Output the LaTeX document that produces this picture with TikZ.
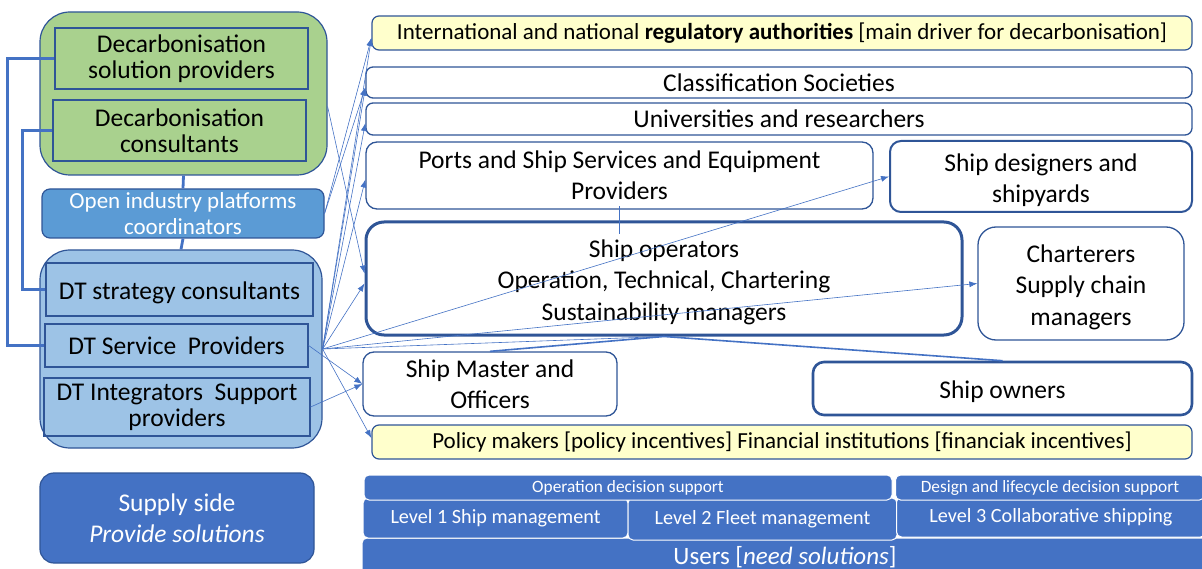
\documentclass[tikz,border=0pt]{standalone}
\usepackage{fontspec}
\setmainfont{Carlito}
\usetikzlibrary{arrows.meta}
\definecolor{bord}{HTML}{2F5597}
\definecolor{lineblue}{HTML}{4472C4}
\definecolor{greenfill}{HTML}{A9D18E}
\definecolor{lightblue}{HTML}{9DC3E6}
\definecolor{midblue}{HTML}{5B9BD5}
\definecolor{darkblue}{HTML}{4472C4}
\definecolor{paleyellow}{HTML}{FFFFCC}
\newcommand{\dnstrut}{\rule{0pt}{25pt}}
\tikzset{
  bigtxt/.style={font=\fontsize{25.5}{31.3}\selectfont},
  lefttxt/.style={font=\fontsize{25.5}{26}\selectfont},
  outerbox/.style={draw=bord, line width=1.2pt, rounded corners=30pt, inner sep=0pt},
  innerbox/.style={draw=bord, line width=1.2pt, align=center, inner sep=0pt, lefttxt},
  rbox/.style={draw=bord, fill=white, line width=1.3pt, rounded corners=11pt, align=center, inner sep=0pt, bigtxt},
  ybox/.style={draw=bord, fill=paleyellow, line width=1.2pt, rounded corners=7pt, align=center, inner sep=0pt, font=\fontsize{23}{28}\selectfont},
  blk/.style={draw=white, fill=darkblue, line width=1pt, rounded corners=5pt, align=center, inner sep=0pt, text=white},
  conn/.style={draw=lineblue, line width=0.6pt},
  arr/.style={conn, -{Latex[length=8pt,width=6pt]}},
  thickconn/.style={draw=lineblue, line width=2.8pt},
}
\begin{document}
\begin{tikzpicture}[x=1pt,y=-1pt]
\useasboundingbox (0,0) rectangle (1202,569);
% ---------- left column ----------
\node[outerbox, fill=greenfill, minimum width=287, minimum height=163] (green) at (183.5,93.5) {};
\node[innerbox, minimum width=253, minimum height=61] (dsp) at (181.5,58.5) {Decarbonisation\\solution providers};
\node[innerbox, minimum width=253, minimum height=61] (dcons) at (179.5,130.5) {Decarbonisation\\consultants};
\node[draw=bord, fill=midblue, line width=1.2pt, rounded corners=8pt, minimum width=282, minimum height=49, inner sep=0pt, align=center, text=white, font=\fontsize{23}{26}\selectfont] (oip) at (183,213.5) {Open industry platforms\\coordinators};
\node[outerbox, fill=lightblue, minimum width=282, minimum height=198] (blue) at (181,349) {};
\node[innerbox, minimum width=267, minimum height=53] (dts) at (179.5,289.5) {\dnstrut DT strategy consultants};
\node[innerbox, minimum width=263, minimum height=43] (dtsp) at (176.5,345.5) {DT Service~~Providers};
\node[innerbox, minimum width=266, minimum height=58] (dti) at (177,407) {DT Integrators~~Support\\providers};
\node[draw=bord, fill=darkblue, line width=1.2pt, rounded corners=14pt, minimum width=274, minimum height=90, inner sep=0pt, align=center, text=white, bigtxt] (supply) at (177,518) {Supply side\\\textit{Provide solutions}};
% left brackets
\draw[thickconn] (dsp.west) -- ++(-47,0) |- (dtsp.west);
\draw[thickconn] (dcons.west) -- ++(-30,0) |- (dts.west);
\draw[thickconn] (green.south) -- (oip.north);
\draw[thickconn] (oip.south) -- (blue.north);
% ---------- right column ----------
\node[ybox, minimum width=820, minimum height=34] (reg) at (782,33) {International and national \textbf{regulatory authorities} [main driver for decarbonisation]};
\node[rbox, rounded corners=7pt, minimum width=826, minimum height=31] (cls) at (779,82.5) {Classification Societies};
\node[rbox, rounded corners=7pt, minimum width=826, minimum height=32] (uni) at (779,119) {Universities and researchers};
\node[rbox, minimum width=507, minimum height=67] (ports) at (619.5,175.5) {Ports and Ship Services and Equipment\\Providers};
\node[rbox, line width=2pt, minimum width=302, minimum height=71] (sdes) at (1041,176.5) {\dnstrut Ship designers and\\shipyards};
\node[rbox, line width=3pt, rounded corners=18pt, minimum width=596, minimum height=113] (sop) at (664,278.5) {\dnstrut Ship operators\\Operation, Technical, Chartering\\Sustainability managers};
\node[rbox, rounded corners=18pt, minimum width=206, minimum height=113] (chart) at (1081,283.5) {\dnstrut Charterers\\Supply chain\\managers};
\node[rbox, minimum width=254, minimum height=64] (smaster) at (490,384) {Ship Master and\\Officers};
\node[rbox, line width=2.6pt, minimum width=379, minimum height=53] (sown) at (1002.5,388.5) {\dnstrut Ship owners};
\node[ybox, minimum width=820, minimum height=34] (policy) at (782,442) {Policy makers [policy incentives] Financial institutions [financiak incentives]};
% ---------- bottom bar ----------
\node[blk, minimum width=862, minimum height=40, font=\fontsize{25}{30}\selectfont] (users) at (793,558) {\hspace*{-16pt}\raisebox{6pt}{Users [\textit{need solutions}]}};
\node[blk, minimum width=265, minimum height=40, font=\fontsize{20.2}{24}\selectfont] (l1) at (495.5,518) {Level 1 Ship management};
\node[blk, minimum width=269, minimum height=42, font=\fontsize{20.2}{24}\selectfont] (l2) at (762.5,519) {Level 2 Fleet management};
\node[blk, minimum width=309, minimum height=40, font=\fontsize{20.2}{24}\selectfont] (l3) at (1051,517) {Level 3 Collaborative shipping};
\node[blk, minimum width=528, minimum height=25, font=\fontsize{17.3}{20}\selectfont] (ods) at (628,487.5) {Operation decision support};
\node[blk, minimum width=309, minimum height=25, font=\fontsize{17.3}{20}\selectfont] (dlds) at (1050,487.5) {Design and lifecycle decision support};
% ---------- connectors ----------
\draw[arr] (blue.east) -- ([yshift=-5pt]reg.west);
\draw[arr] (blue.east) -- ([yshift=-5pt]cls.west);
\draw[arr] (blue.east) -- ([yshift=-4pt]uni.west);
\draw[arr] (blue.east) -- ([yshift=-4pt]ports.west);
\draw[arr] (blue.east) -- ([yshift=-5pt]sop.west);
\draw[arr] (blue.east) -- (sdes.west);
\draw[arr] (blue.east) -- (chart.west);
\draw[arr] (blue.east) -- ([yshift=4pt]policy.west);
\draw[arr] (dtsp.east) -- (smaster.west);
\draw[arr] (dti.east) -- (smaster.west);
\draw[arr] ([yshift=-13pt]green.east) -- ([yshift=5pt]sop.west);
\draw[arr] (oip.east) -- ([yshift=-5pt]reg.west);
\draw[arr] (oip.east) -- ([yshift=-5pt]cls.west);
\draw[conn] (blue.east) -- (sop.south);
\draw[draw=lineblue, line width=1.6pt] (smaster.north) -- (sop.south) -- (sown.north);
\draw[draw=lineblue, line width=1.8pt] ([yshift=-24pt]ports.south) -- ([yshift=4pt]ports.south);
\end{tikzpicture}
\end{document}
